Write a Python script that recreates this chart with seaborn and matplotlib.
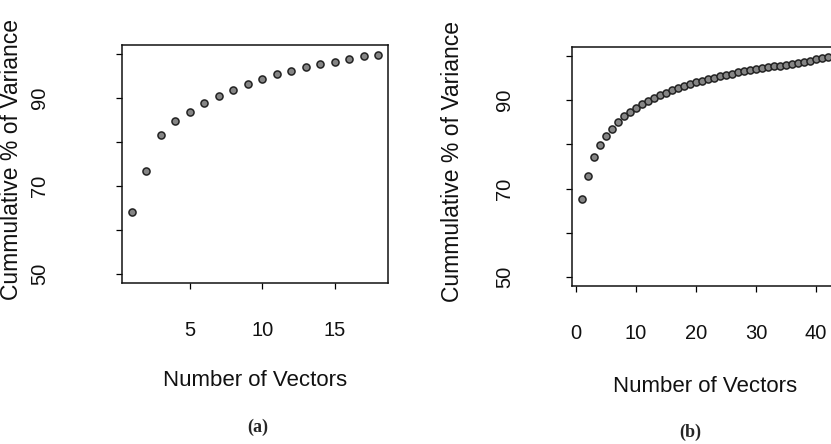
import matplotlib
matplotlib.use("Agg")
import matplotlib.pyplot as plt
import seaborn as sns
import pandas as pd

# cumulative % of variance
vectors_a = list(range(1, 19))
variance_a = [64.2, 73.3, 81.5, 84.8, 86.9, 88.8, 90.4, 91.8, 93.2,
              94.3, 95.4, 96.1, 96.9, 97.7, 98.2, 98.9, 99.5, 99.8]

vectors_b = list(range(1, 43))
variance_b = [67.6, 72.9, 77.1, 79.9, 81.8, 83.5, 85.0, 86.4, 87.4, 88.3,
              89.1, 89.8, 90.5, 91.1, 91.7, 92.2, 92.8, 93.3, 93.7, 94.1,
              94.4, 94.8, 95.1, 95.4, 95.7, 96.0, 96.3, 96.5, 96.8, 97.0,
              97.2, 97.4, 97.6, 97.8, 98.0, 98.2, 98.4, 98.6, 98.9, 99.2,
              99.5, 99.8]

y_ticks = [50, 60, 70, 80, 90, 100]
y_ticklabels = ["50", "", "70", "", "90", ""]
x_ticks_a = [5, 10, 15]
x_ticks_b = [0, 10, 20, 30, 40]

sns.set_style("ticks")
plt.rcParams["font.family"] = ["Liberation Sans", "DejaVu Sans"]

fig = plt.figure(figsize=(8.31, 4.44), dpi=100)
W, H = 831, 444


def add_axes(left, top, right, bottom):
    return fig.add_axes([left / W, 1 - bottom / H, (right - left) / W, (bottom - top) / H])


ax_a = add_axes(122, 45, 388, 283)
ax_b = add_axes(572, 47, 838, 286)

panels = [
    (ax_a, vectors_a, variance_a, x_ticks_a, 55, -0.417, -0.408),
    (ax_b, vectors_b, variance_b, x_ticks_b, 44, -0.45, -0.42),
]

for ax, xs, ys, xt, ypad, ylab_x, xlab_y in panels:
    df = pd.DataFrame({"n": xs, "v": ys})
    sns.scatterplot(data=df, x="n", y="v", ax=ax, s=26, color="#858585",
                    edgecolor="#222222", linewidth=1.1, zorder=3)
    n = max(xs)
    pad = 0.04 * (n - 1)
    ax.set_xlim(1 - pad, n + pad)
    ax.set_ylim(48, 102)
    ax.set_yticks(y_ticks)
    ax.set_yticklabels(y_ticklabels, rotation=90, va="center", ha="center")
    ax.set_xticks(xt)
    ax.tick_params(axis="both", direction="out", length=4.5, width=0.9,
                   color="black", labelsize=14.5, labelcolor="#111111")
    ax.tick_params(axis="y", pad=ypad)
    ax.tick_params(axis="x", pad=23)
    for sp in ax.spines.values():
        sp.set_visible(True)
        sp.set_linewidth(1.1)
        sp.set_color("#111111")
    ax.set_xlabel("Number of Vectors", fontsize=16, color="#111111")
    ax.set_ylabel("Cummulative % of Variance", fontsize=16.5, color="#111111")
    ax.xaxis.label.set_va("center")
    ax.yaxis.label.set_va("center")
    ax.xaxis.set_label_coords(0.5, xlab_y)
    ax.yaxis.set_label_coords(ylab_x, 0.52)

fig.text(258 / W, 1 - 427 / H, "(a)", ha="center", va="center",
         fontsize=13, fontweight="bold", family=["Liberation Serif", "DejaVu Serif"])
fig.text(690 / W, 1 - 432 / H, "(b)", ha="center", va="center",
         fontsize=13, fontweight="bold", family=["Liberation Serif", "DejaVu Serif"])

fig.savefig("out.png", dpi=100)
